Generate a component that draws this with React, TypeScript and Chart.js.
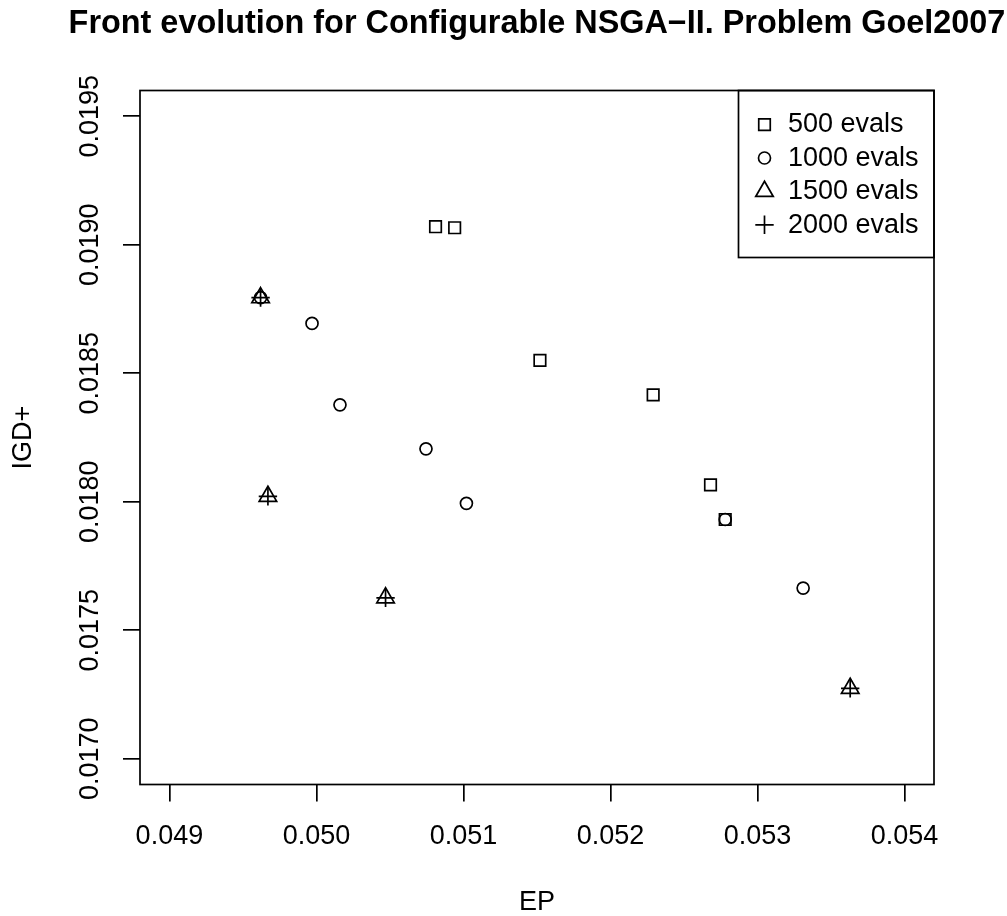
import React, { useEffect, useRef } from "react";
import { Chart, registerables } from "chart.js";

Chart.register(...registerables);

// ---------- data ----------
const TITLE = "Front evolution for Configurable NSGA\u2212II. Problem Goel2007";
const X_LABEL = "EP";
const Y_LABEL = "IGD+";

const seriesLabels = ["500 evals", "1000 evals", "1500 evals", "2000 evals"];

const ep500 = [0.05081, 0.05094, 0.05152, 0.05229, 0.05268, 0.05278];
const igd500 = [0.01907, 0.019066, 0.01855, 0.018416, 0.018066, 0.017931];

const ep1000 = [0.04962, 0.04997, 0.05016, 0.050745, 0.05102, 0.05278, 0.05331];
const igd1000 = [0.018794, 0.018694, 0.018377, 0.018206, 0.017994, 0.017931, 0.017664];

const ep1500 = [0.04962, 0.04967, 0.05047, 0.05363];
const igd1500 = [0.018794, 0.018021, 0.017626, 0.017274];

const ep2000 = [0.04962, 0.04967, 0.05047, 0.05363];
const igd2000 = [0.018794, 0.018021, 0.017626, 0.017274];

const xTickValues = [0.049, 0.05, 0.051, 0.052, 0.053, 0.054];
const xTickLabels = ["0.049", "0.050", "0.051", "0.052", "0.053", "0.054"];
const yTickValues = [0.017, 0.0175, 0.018, 0.0185, 0.019, 0.0195];
const yTickLabels = ["0.0170", "0.0175", "0.0180", "0.0185", "0.0190", "0.0195"];

const X_MIN = 0.0488;
const X_MAX = 0.0542;
const Y_MIN = 0.0169;
const Y_MAX = 0.0196;

// ---------- styles ----------
const FONT = "'Liberation Sans', Arial, Helvetica, sans-serif";
const LINE_W = 1.7;
const BASE = 6.5; // R symbol radius
const styles = [
  { pointStyle: "rect", r: (BASE * 1.7725) / Math.SQRT2 },
  { pointStyle: "circle", r: 6.0 },
  { pointStyle: "triangle", r: BASE * 1.5551 },
  { pointStyle: "cross", r: BASE * Math.SQRT2 },
];

const toPoints = (xs: number[], ys: number[]) => xs.map((x, i) => ({ x, y: ys[i] }));
const seriesData = [
  toPoints(ep500, igd500),
  toPoints(ep1000, igd1000),
  toPoints(ep1500, igd1500),
  toPoints(ep2000, igd2000),
];

function drawSymbol(ctx: CanvasRenderingContext2D, style: string, r: number, x: number, y: number) {
  ctx.beginPath();
  if (style === "rect") {
    const s = r * Math.SQRT1_2;
    ctx.rect(x - s, y - s, 2 * s, 2 * s);
  } else if (style === "circle") {
    ctx.arc(x, y, r, 0, Math.PI * 2);
  } else if (style === "triangle") {
    for (let k = 0; k < 3; k++) {
      const a = (k * 2 * Math.PI) / 3;
      const px = x + Math.sin(a) * r;
      const py = y - Math.cos(a) * r;
      if (k === 0) ctx.moveTo(px, py);
      else ctx.lineTo(px, py);
    }
    ctx.closePath();
  } else if (style === "cross") {
    ctx.moveTo(x - r, y);
    ctx.lineTo(x + r, y);
    ctx.moveTo(x, y - r);
    ctx.lineTo(x, y + r);
  }
  ctx.stroke();
}

const framePlugin = {
  id: "frameTitleLegend",
  afterDraw(chart: any) {
    const { ctx, chartArea } = chart;
    const { left, right, top, bottom } = chartArea;
    ctx.save();
    ctx.strokeStyle = "#000";
    ctx.fillStyle = "#000";
    ctx.lineWidth = LINE_W;
    ctx.strokeRect(left, top, right - left, bottom - top);

    // title
    ctx.font = `bold 32.4px ${FONT}`;
    ctx.textAlign = "center";
    ctx.textBaseline = "middle";
    ctx.fillText(TITLE, (left + right) / 2, 23.8);

    // legend
    const boxW = 195.5;
    const rowH = 33.4;
    const n = chart.data.datasets.length;
    const bx = right - boxW;
    const by = top;
    ctx.strokeRect(bx, by, boxW, rowH * (n + 1));
    ctx.font = `27px ${FONT}`;
    ctx.textAlign = "left";
    chart.data.datasets.forEach((ds: any, i: number) => {
      const cy = by + rowH * (i + 1) + 0.7;
      drawSymbol(ctx, ds.pointStyle, ds.pointRadius, bx + 26, cy);
      ctx.fillText(ds.label, bx + 49.5, cy + 0.3);
    });
    ctx.restore();
  },
};

export default function App() {
  const ref = useRef<HTMLCanvasElement>(null);

  useEffect(() => {
    const canvas = ref.current;
    if (!canvas) return;
    const gridOpts = {
      display: true,
      drawOnChartArea: false,
      drawTicks: true,
      tickLength: 17,
      color: "#000",
      lineWidth: LINE_W,
    };
    const chart = new Chart(canvas, {
      type: "scatter",
      data: {
        datasets: seriesData.map((pts, i) => ({
          label: seriesLabels[i],
          data: pts,
          pointStyle: styles[i].pointStyle as any,
          pointRadius: styles[i].r,
          pointHoverRadius: styles[i].r,
          pointBorderWidth: LINE_W,
          pointHoverBorderWidth: LINE_W,
          pointBorderColor: "#000",
          pointBackgroundColor: "rgba(0,0,0,0)",
          showLine: false,
        })),
      },
      options: {
        animation: false,
        responsive: false,
        devicePixelRatio: 1,
        events: [],
        layout: { padding: { top: 90.5, right: 73, bottom: 0, left: 0 } },
        plugins: {
          legend: { display: false },
          tooltip: { enabled: false },
          title: { display: false },
        },
        scales: {
          x: {
            type: "linear",
            position: "bottom",
            min: X_MIN,
            max: X_MAX,
            afterBuildTicks: (s: any) => {
              s.ticks = xTickValues.map((v) => ({ value: v }));
            },
            afterFit: (s: any) => {
              s.height = 131.5;
            },
            border: { display: false },
            grid: gridOpts,
            ticks: {
              autoSkip: false,
              minRotation: 0,
              maxRotation: 0,
              padding: 18.9,
              color: "#000",
              font: { family: FONT, size: 27, lineHeight: 1.2 },
              callback: (_v: any, i: number) => xTickLabels[i],
            },
            title: {
              display: true,
              text: X_LABEL,
              color: "#000",
              font: { family: FONT, size: 27, lineHeight: 1 },
              padding: { top: 0, bottom: 0.2 },
            },
          },
          y: {
            type: "linear",
            position: "left",
            min: Y_MIN,
            max: Y_MAX,
            afterBuildTicks: (s: any) => {
              s.ticks = yTickValues.map((v) => ({ value: v }));
            },
            afterFit: (s: any) => {
              s.width = 140;
            },
            border: { display: false },
            grid: gridOpts,
            ticks: {
              autoSkip: false,
              minRotation: 90,
              maxRotation: 90,
              crossAlign: "center",
              padding: -8.9,
              color: "#000",
              font: { family: FONT, size: 27, lineHeight: 1.2 },
              callback: (_v: any, i: number) => yTickLabels[i],
            },
            title: {
              display: true,
              text: Y_LABEL,
              color: "#000",
              font: { family: FONT, size: 27, lineHeight: 1 },
              padding: { top: 10.1, bottom: 0 },
            },
          },
        },
      } as any,
      plugins: [framePlugin],
    });
    return () => chart.destroy();
  }, []);

  return (
    <div
      style={{
        position: "fixed",
        left: 0,
        top: 0,
        width: 1007,
        height: 916,
        background: "#fff",
        overflow: "hidden",
      }}
    >
      <canvas ref={ref} width={1007} height={916} style={{ display: "block", width: 1007, height: 916 }} />
    </div>
  );
}
